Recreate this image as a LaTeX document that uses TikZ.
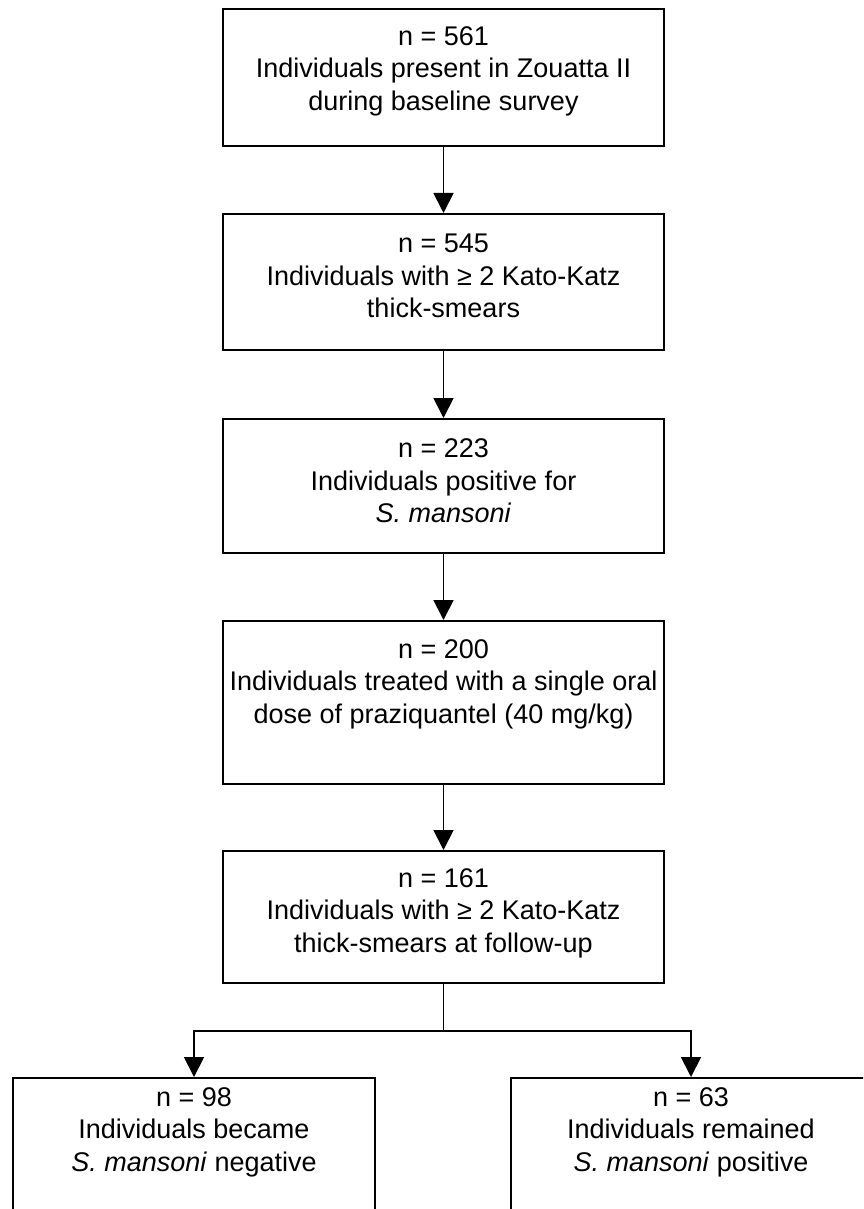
\documentclass[tikz,border=0pt]{standalone}
\usepackage{fontspec}
\setmainfont{Liberation Sans}
\usetikzlibrary{arrows.meta}
\begin{document}
\begin{tikzpicture}[x=1pt,y=-1pt,
  box/.style={draw=black,line width=1.8pt,rectangle,inner sep=0pt},
  txt/.style={align=center,font=\fontsize{27}{32.5}\selectfont,inner sep=0pt},
  arr/.style={line width=1.8pt,-{Triangle[width=20pt,length=20pt]}},
  ln/.style={line width=1.8pt}]
\useasboundingbox (0,0) rectangle (863,1209);
\clip (0,0) rectangle (863,1209);
\fill[white] (0,0) rectangle (863,1209);
% main boxes
\node[box,minimum width=441pt,minimum height=137pt,anchor=north] (b1) at (443.5,8) {};
\node[box,minimum width=441pt,minimum height=136pt,anchor=north] (b2) at (443.5,213) {};
\node[box,minimum width=441pt,minimum height=134pt,anchor=north] (b3) at (443.5,418) {};
\node[box,minimum width=441pt,minimum height=163pt,anchor=north] (b4) at (443.5,620) {};
\node[box,minimum width=441pt,minimum height=132pt,anchor=north] (b5) at (443.5,850) {};
\node[box,minimum width=362pt,minimum height=160pt,anchor=north] (bl) at (194,1077) {};
\node[box,minimum width=360pt,minimum height=160pt,anchor=north] (br) at (691,1077) {};
% texts
\node[txt] (t1) at (443.5,71) {n = 561\\Individuals present in Zouatta II\\during baseline survey};
\node[txt] (t2) at (443.5,276) {n = 545\\Individuals with ≥ 2 Kato-Katz\\thick-smears};
\node[txt] (t3) at (443.5,481) {n = 223\\Individuals positive for\\\textit{S. mansoni}};
\node[txt] (t4) at (443.5,684) {n = 200\\Individuals treated with a single oral\\dose of praziquantel (40 mg/kg)};
\node[txt] (t5) at (443.5,913) {n = 161\\Individuals with ≥ 2 Kato-Katz\\thick-smears at follow-up};
\node[txt] (tl) at (194,1132) {n = 98\\Individuals became\\\textit{S. mansoni} negative};
\node[txt] (tr) at (691,1132) {n = 63\\Individuals remained\\\textit{S. mansoni} positive};
% connectors
\draw[arr] (b1.south) -- (b2.north);
\draw[arr] (b2.south) -- (b3.north);
\draw[arr] (b3.south) -- (b4.north);
\draw[arr] (b4.south) -- (b5.north);
\coordinate (j) at (443.5,1031);
\draw[ln] (b5.south) -- (j);
\draw[arr] (j) -| (bl.north);
\draw[arr] (j) -| (br.north);
\end{tikzpicture}
\end{document}
